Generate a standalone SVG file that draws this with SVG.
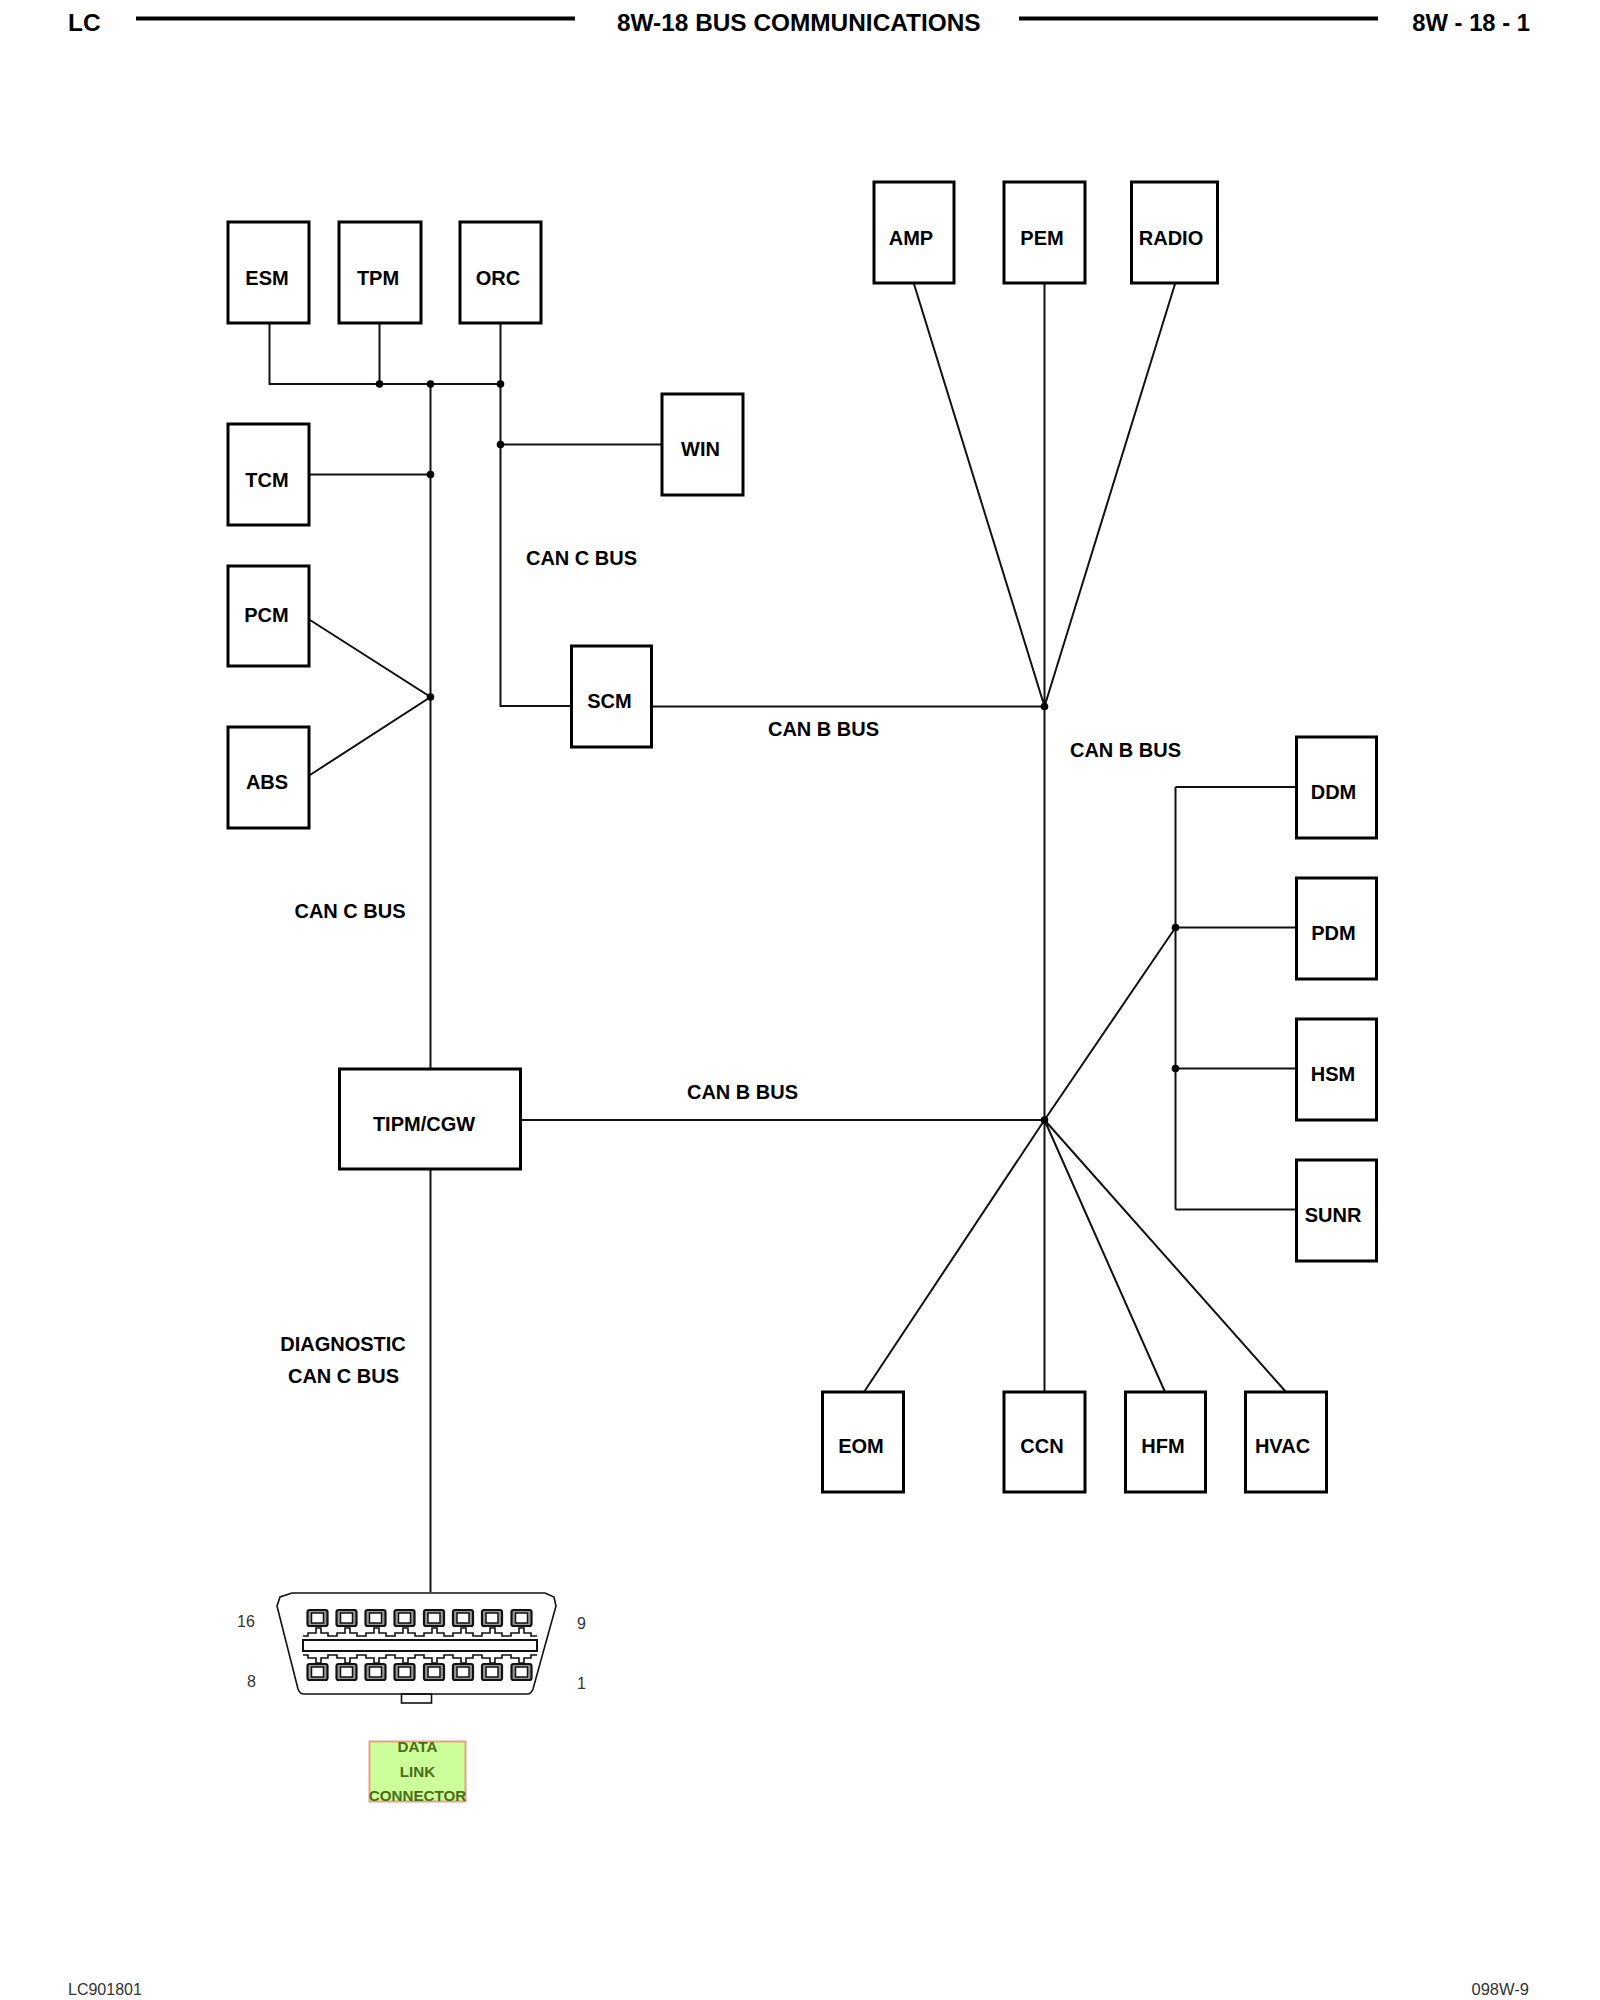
<svg xmlns="http://www.w3.org/2000/svg" width="1600" height="2000" viewBox="0 0 1600 2000">
<defs>
<style>
text{font-family:"Liberation Sans",Arial,sans-serif;fill:#000}
.b{fill:#fff;stroke:#000;stroke-width:3}
.n{font-size:20px;font-weight:bold;text-anchor:middle}
.l{font-size:20px;font-weight:bold;text-anchor:middle}
.h{font-size:24.400px;font-weight:bold}
.s{font-size:16px;fill:#333}
.w{fill:none;stroke:#111;stroke-width:2}
.o{fill:none;stroke:#111;stroke-width:1.6}
.p{fill:#fff;stroke:#111;stroke-width:1.5}
.k{fill:#999;stroke:#111;stroke-width:2.200}
.g{font-size:15.200px;font-weight:bold;text-anchor:middle;fill:#4d6b1a}
</style>
<g id="pin"><rect class="k" x="-10" y="-8" width="20" height="16" rx="2"/><rect class="p" x="-6" y="-5" width="12" height="10"/></g>
<circle id="d" r="3.800" fill="#000"/>
</defs>
<rect width="1600" height="2000" fill="#fff"/>
<g id="header">
<text class="h" x="68" y="31">LC</text>
<line x1="136" y1="18.500" x2="575" y2="18.500" stroke="#000" stroke-width="4"/>
<text class="h" x="617" y="31">8W-18 BUS COMMUNICATIONS</text>
<line x1="1019" y1="18.500" x2="1378" y2="18.500" stroke="#000" stroke-width="4"/>
<text class="h" x="1530" y="31" text-anchor="end" style="font-size:23.800px">8W - 18 - 1</text>
</g>
<g id="connectors">
<path class="w" d="M269.500 324V384H500.500M379.500 324V384M430.500 384V1068M500.500 324V706H572M500.500 444.500H662M309 474.500H430.500M310 620L430.500 697L310 775M652 706.500H1044.500M914 284L1044.500 706.500M1044.500 284V1392M1175 284L1044.500 706.500M520 1120H1044.500M430.500 1170V1592M1044.500 1120L1175.500 927.500M1175.500 787V1209.500M1175.500 787H1296M1175.500 927.500H1296M1175.500 1068.500H1296M1175.500 1209.500H1296M1044.500 1120L864 1392M1044.500 1120L1165 1392M1044.500 1120L1286 1392"/>
<use href="#d" x="379.500" y="384"/><use href="#d" x="430.500" y="384"/><use href="#d" x="500.500" y="384"/>
<use href="#d" x="500.500" y="444.500"/><use href="#d" x="430.500" y="474.500"/><use href="#d" x="430.500" y="697"/>
<use href="#d" x="1044.500" y="706.500"/><use href="#d" x="1044.500" y="1120"/><use href="#d" x="1175.500" y="927.500"/><use href="#d" x="1175.500" y="1068.500"/>
</g>
<g id="labels">
<text class="l" x="581.500" y="565">CAN C BUS</text>
<text class="l" x="823.500" y="736">CAN B BUS</text>
<text class="l" x="1125.500" y="757">CAN B BUS</text>
<text class="l" x="350" y="918">CAN C BUS</text>
<text class="l" x="742.500" y="1099">CAN B BUS</text>
<text class="l" x="343" y="1351">DIAGNOSTIC</text>
<text class="l" x="343.500" y="1383">CAN C BUS</text>
</g>
<g id="esm"><rect class="b" x="228" y="222" width="81" height="101"/><text class="n" x="267" y="285">ESM</text></g>
<g id="tpm"><rect class="b" x="339" y="222" width="82" height="101"/><text class="n" x="378" y="285">TPM</text></g>
<g id="orc"><rect class="b" x="460" y="222" width="81" height="101"/><text class="n" x="498" y="285">ORC</text></g>
<g id="tcm"><rect class="b" x="228" y="424" width="81" height="101"/><text class="n" x="267" y="487">TCM</text></g>
<g id="win"><rect class="b" x="662" y="394" width="81" height="101"/><text class="n" x="700.500" y="456">WIN</text></g>
<g id="pcm"><rect class="b" x="228" y="566" width="81" height="100"/><text class="n" x="266.500" y="622">PCM</text></g>
<g id="abs"><rect class="b" x="228" y="727" width="81" height="101"/><text class="n" x="267" y="789">ABS</text></g>
<g id="scm"><rect class="b" x="571.500" y="646" width="80" height="101"/><text class="n" x="609.500" y="708">SCM</text></g>
<g id="amp"><rect class="b" x="874" y="182" width="80" height="101"/><text class="n" x="911" y="245">AMP</text></g>
<g id="pem"><rect class="b" x="1004" y="182" width="81" height="101"/><text class="n" x="1042" y="245">PEM</text></g>
<g id="radio"><rect class="b" x="1131.500" y="182" width="86" height="101"/><text class="n" x="1171" y="245">RADIO</text></g>
<g id="ddm"><rect class="b" x="1296.500" y="737" width="80" height="101"/><text class="n" x="1333.500" y="799">DDM</text></g>
<g id="pdm"><rect class="b" x="1296.500" y="878" width="80" height="101"/><text class="n" x="1333.500" y="940">PDM</text></g>
<g id="hsm"><rect class="b" x="1296.500" y="1019" width="80" height="101"/><text class="n" x="1333" y="1081">HSM</text></g>
<g id="sunr"><rect class="b" x="1296.500" y="1160" width="80" height="101"/><text class="n" x="1333" y="1222">SUNR</text></g>
<g id="tipm"><rect class="b" x="339.500" y="1069" width="181" height="100"/><text class="n" x="424" y="1131">TIPM/CGW</text></g>
<g id="eom"><rect class="b" x="822.500" y="1392" width="81" height="100"/><text class="n" x="861" y="1453">EOM</text></g>
<g id="ccn"><rect class="b" x="1004" y="1392" width="81" height="100"/><text class="n" x="1042" y="1453">CCN</text></g>
<g id="hfm"><rect class="b" x="1125.500" y="1392" width="80" height="100"/><text class="n" x="1163" y="1453">HFM</text></g>
<g id="hvac"><rect class="b" x="1245.500" y="1392" width="81" height="100"/><text class="n" x="1282.500" y="1453">HVAC</text></g>
<g id="dlc">
<path class="o" d="M292 1593H545L554 1597L556 1606L533 1689Q531 1694 527 1694H304Q300 1694 298 1689L277 1606L280 1597Z"/>
<rect class="o" x="401.500" y="1694" width="30" height="9"/>
<path class="o" d="M303 1636H308V1633H316V1628H321V1633H328V1636H337V1633H345V1628H350V1633H357V1636H366V1633H374V1628H379V1633H386V1636H395V1633H403V1628H408V1633H415V1636H424V1633H432V1628H437V1633H444V1636H453V1633H461V1628H466V1633H473V1636H482V1633H490V1628H495V1633H502V1636H511V1633H519V1628H524V1633H531V1636H537M303 1655H308V1658H316V1663H321V1658H328V1655H337V1658H345V1663H350V1658H357V1655H366V1658H374V1663H379V1658H386V1655H395V1658H403V1663H408V1658H415V1655H424V1658H432V1663H437V1658H444V1655H453V1658H461V1663H466V1658H473V1655H482V1658H490V1663H495V1658H502V1655H511V1658H519V1663H524V1658H531V1655H537"/>
<rect x="303" y="1640" width="234" height="11" fill="#fff" stroke="#111" stroke-width="2"/>
<use href="#pin" x="317.500" y="1618"/><use href="#pin" x="346.500" y="1618"/><use href="#pin" x="375.500" y="1618"/><use href="#pin" x="404.500" y="1618"/><use href="#pin" x="434" y="1618"/><use href="#pin" x="463" y="1618"/><use href="#pin" x="492" y="1618"/><use href="#pin" x="521.500" y="1618"/>
<use href="#pin" x="317.500" y="1672"/><use href="#pin" x="346.500" y="1672"/><use href="#pin" x="375.500" y="1672"/><use href="#pin" x="404.500" y="1672"/><use href="#pin" x="434" y="1672"/><use href="#pin" x="463" y="1672"/><use href="#pin" x="492" y="1672"/><use href="#pin" x="521.500" y="1672"/>
<text class="s" x="237" y="1627">16</text><text class="s" x="577" y="1629">9</text><text class="s" x="247" y="1687">8</text><text class="s" x="577" y="1689">1</text>
</g>
<g id="dlc-label">
<rect x="369.500" y="1741.500" width="96" height="60" fill="#ccff99" stroke="#e8a080" stroke-width="2"/>
<text class="g" x="417.500" y="1752">DATA</text><text class="g" x="417.500" y="1777">LINK</text><text class="g" x="417.500" y="1801">CONNECTOR</text>
</g>
<g id="footer">
<text x="68" y="1995" font-size="16" style="fill:#333">LC901801</text>
<text x="1529" y="1995" font-size="16.500" text-anchor="end" style="fill:#333">098W-9</text>
</g>
</svg>
